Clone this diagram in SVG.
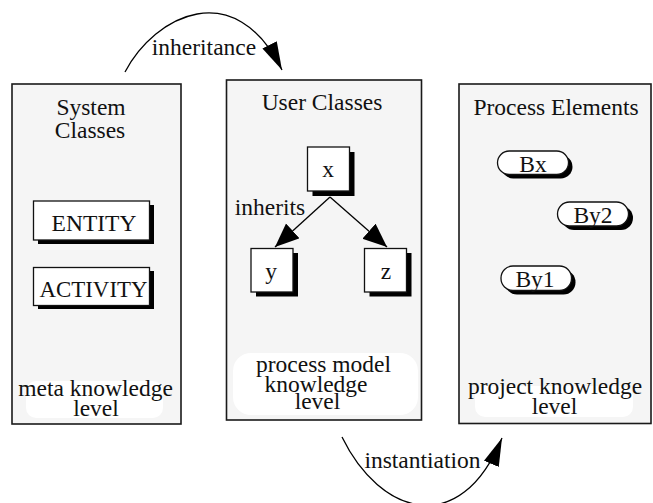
<svg xmlns="http://www.w3.org/2000/svg" width="653" height="503" viewBox="0 0 653 503">
  <style>
    text { font-family: "Liberation Serif", "Times New Roman", serif; font-size: 23.5px; fill: #111; text-anchor: middle; }
    .panel { fill: #f5f5f5; stroke: #1a1a1a; stroke-width: 1.6; }
    .glow { fill: #ffffff; }
    .box { fill: #ffffff; stroke: #111; stroke-width: 1.3; }
    .shadow { fill: #000; }
    .edge { fill: none; stroke: #000; stroke-width: 1.3; }
  </style>
  <defs>
    <marker id="bigHead" markerUnits="userSpaceOnUse" markerWidth="30" markerHeight="18" refX="28" refY="8" orient="auto">
      <path d="M0,0 L28,8 L0,16 Z" fill="#000"/>
    </marker>
    <marker id="treeHead" markerUnits="userSpaceOnUse" markerWidth="26" markerHeight="22" refX="24" refY="10" orient="auto">
      <path d="M0,0 L24,10 L0,20 Z" fill="#000"/>
    </marker>
  </defs>

  <rect width="653" height="503" fill="#ffffff"/>

  <!-- meta level panel -->
  <g id="system-classes">
    <rect class="panel" x="12" y="84" width="169" height="340"/>
    <text x="91" y="115">System</text>
    <text x="90" y="138">Classes</text>
    <rect class="glow" x="26" y="381" width="137" height="37" rx="10"/>
    <text x="95.5" y="396">meta knowledge</text>
    <text x="96" y="416">level</text>
  </g>
  <g id="entity">
    <rect class="shadow" x="38" y="205" width="116" height="39"/>
    <rect class="box" x="33.5" y="201" width="116" height="39"/>
    <text x="94" y="231">ENTITY</text>
  </g>
  <g id="activity">
    <rect class="shadow" x="38" y="271" width="116" height="38"/>
    <rect class="box" x="33.5" y="267.5" width="116" height="38"/>
    <text x="93.5" y="297" textLength="108" lengthAdjust="spacingAndGlyphs">ACTIVITY</text>
  </g>

  <!-- process model level panel -->
  <g id="user-classes">
    <rect class="panel" x="226.5" y="80" width="195" height="340"/>
    <text x="322" y="110">User Classes</text>
    <rect class="glow" x="233" y="353" width="185" height="62" rx="18"/>
    <text x="323.5" y="372">process model</text>
    <text x="316" y="392">knowledge</text>
    <text x="317.5" y="408.5">level</text>
  </g>
  <g id="class-x">
    <rect class="shadow" x="312.5" y="152" width="42" height="44"/>
    <rect class="box" x="307.5" y="147" width="42" height="44"/>
    <text x="328" y="177">x</text>
  </g>
  <g id="class-y">
    <rect class="shadow" x="256" y="253" width="42" height="43.5"/>
    <rect class="box" x="251" y="248.5" width="42" height="43.5"/>
    <text x="271" y="278.5">y</text>
  </g>
  <g id="class-z">
    <rect class="shadow" x="369.5" y="253" width="42" height="43.5"/>
    <rect class="box" x="364.5" y="248.5" width="42" height="43.5"/>
    <text x="386" y="278.5">z</text>
  </g>

  <!-- project level panel -->
  <g id="process-elements">
    <rect class="panel" x="459" y="84" width="192" height="339.5"/>
    <text x="556" y="115">Process Elements</text>
    <rect class="glow" x="475" y="386" width="158" height="31" rx="10"/>
    <text x="555" y="393.5">project knowledge</text>
    <text x="554.5" y="413.5">level</text>
  </g>
  <g id="bx">
    <rect class="shadow" x="501.5" y="155" width="71" height="23.5" rx="11.75"/>
    <rect class="box" x="497.5" y="151" width="71" height="23.5" rx="11.75"/>
    <text x="533" y="171.5">Bx</text>
  </g>
  <g id="by2">
    <rect class="shadow" x="562" y="206" width="71" height="24" rx="12"/>
    <rect class="box" x="557.5" y="202" width="71" height="24" rx="12"/>
    <text x="593" y="222.5">By2</text>
  </g>
  <g id="by1">
    <rect class="shadow" x="505" y="270" width="70.5" height="24.5" rx="12"/>
    <rect class="box" x="501" y="266" width="70.5" height="24.5" rx="12"/>
    <text x="535" y="286.5">By1</text>
  </g>

  <!-- connectors -->
  <g id="connectors">
    <path class="edge" d="M125,72 C155,15 235,-25 282,70" marker-end="url(#bigHead)"/>
    <text x="204" y="55">inheritance</text>
    <path class="edge" d="M330,197 L275,247" marker-end="url(#treeHead)"/>
    <path class="edge" d="M330,197 L387,247" marker-end="url(#treeHead)"/>
    <text x="270" y="215">inherits</text>
    <path class="edge" d="M342,437 C380,515 460,540 502,438" marker-end="url(#bigHead)"/>
    <text x="422.5" y="467.5">instantiation</text>
  </g>
</svg>
